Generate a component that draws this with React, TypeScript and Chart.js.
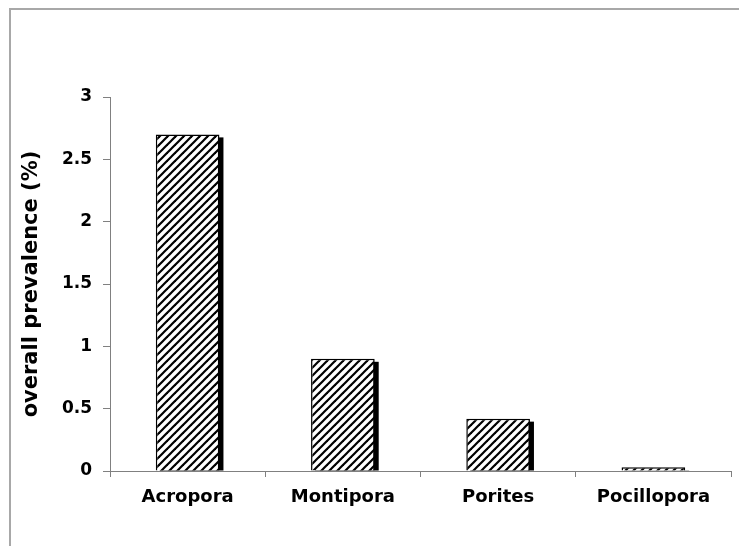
import React, { useEffect, useRef } from "react";
import { Chart, registerables } from "chart.js";

Chart.register(...registerables);

const categories = ["Acropora", "Montipora", "Porites", "Pocillopora"];
const prevalence = [2.7, 0.9, 0.42, 0.03];
const yTitle = "overall prevalence (%)";
const yMin = 0;
const yMax = 3;
const yStep = 0.5;

const FONT = "'DejaVu Sans', Verdana, sans-serif";
const AXIS_COLOR = "#808080";

function makeHatch(): CanvasPattern | string {
  const c = document.createElement("canvas");
  c.width = 8;
  c.height = 8;
  const g = c.getContext("2d");
  if (!g) return "#fff";
  g.fillStyle = "#fff";
  g.fillRect(0, 0, 8, 8);
  g.strokeStyle = "#000";
  g.lineWidth = 2.2;
  g.lineCap = "square";
  const lines = [
    [0, 8, 8, 0],
    [-4, 4, 4, -4],
    [4, 12, 12, 4],
  ];
  for (const [a, b, cc, d] of lines) {
    g.beginPath();
    g.moveTo(a, b);
    g.lineTo(cc, d);
    g.stroke();
  }
  const p = g.createPattern(c, "repeat");
  return p || "#fff";
}

const shadowPlugin = {
  id: "barShadow",
  beforeDatasetsDraw(chart: any) {
    const ctx = chart.ctx;
    const area = chart.chartArea;
    ctx.save();
    ctx.beginPath();
    ctx.rect(area.left, area.top, area.right - area.left + 10, area.bottom - area.top);
    ctx.clip();
    ctx.fillStyle = "#000";
    chart.getSortedVisibleDatasetMetas().forEach((meta: any) => {
      meta.data.forEach((el: any) => {
        const { x, y, base, width } = el.getProps(["x", "y", "base", "width"], true);
        const sx = 4;
        const sy = 3;
        ctx.fillRect(x - width / 2 + sx, y + sy, width, base - y - sy);
      });
    });
    ctx.restore();
  },
};

export default function App() {
  const ref = useRef<HTMLCanvasElement | null>(null);

  useEffect(() => {
    if (!ref.current) return;
    const hatch = makeHatch();
    const chart = new Chart(ref.current, {
      type: "bar",
      data: {
        labels: categories,
        datasets: [
          {
            data: prevalence,
            backgroundColor: hatch as any,
            borderColor: "#000",
            borderWidth: 1.5,
            categoryPercentage: 1,
            barPercentage: 0.41,
          },
        ],
      },
      options: {
        responsive: false,
        animation: false,
        layout: { padding: { top: 97, right: 8, bottom: 0, left: 0 } },
        plugins: {
          legend: { display: false },
          tooltip: { enabled: false },
        },
        scales: {
          x: {
            offset: true,
            grid: {
              display: true,
              drawOnChartArea: false,
              drawTicks: true,
              tickLength: 6,
              color: AXIS_COLOR,
              lineWidth: 1,
              offset: true,
            },
            border: { display: true, color: AXIS_COLOR, width: 1 },
            ticks: {
              color: "#000",
              padding: 10,
              font: { family: FONT, size: 18, weight: "bold" },
            },
            afterFit: (scale: any) => {
              scale.height = 75;
            },
          },
          y: {
            min: yMin,
            max: yMax,
            grid: {
              display: true,
              drawOnChartArea: false,
              drawTicks: true,
              tickLength: 7,
              color: AXIS_COLOR,
              lineWidth: 1,
            },
            border: { display: true, color: AXIS_COLOR, width: 1 },
            ticks: {
              stepSize: yStep,
              color: "#000",
              padding: 11,
              font: { family: FONT, size: 17, weight: "bold" },
              callback: (v: any) => String(Number(v)),
            },
            title: {
              display: true,
              text: yTitle,
              color: "#000",
              padding: { top: 19, bottom: 0 },
              font: { family: FONT, size: 21, weight: "bold" },
            },
            afterFit: (scale: any) => {
              scale.width = 110;
            },
          },
        },
      },
      plugins: [shadowPlugin],
    });
    return () => chart.destroy();
  }, []);

  return (
    <div style={{ position: "fixed", left: 0, top: 0, width: 739, height: 546, background: "#fff", overflow: "hidden" }}>
      <div
        style={{
          position: "absolute",
          left: 9,
          top: 8,
          width: 900,
          height: 700,
          border: "2px solid #a8a8a8",
          boxSizing: "border-box",
        }}
      />
      <canvas ref={ref} width={739} height={546} style={{ position: "absolute", left: 0, top: 0 }} />
    </div>
  );
}
